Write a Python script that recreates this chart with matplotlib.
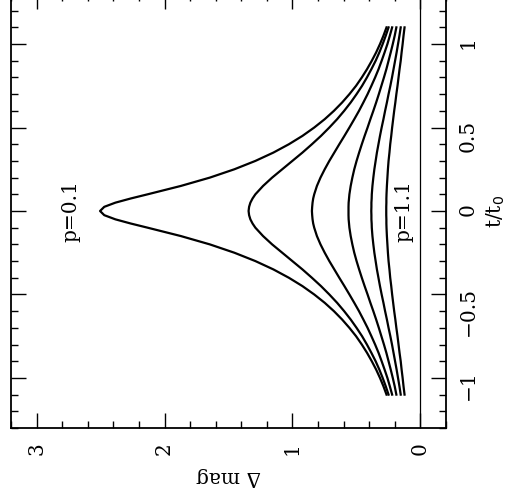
#Light curves for several impact parameters
import matplotlib
matplotlib.use('Agg')
import matplotlib.pyplot as plt

plt.rcParams['font.family'] = ['DejaVu Serif']

# time in units of t0
t = [-1.1, -1.05, -1.0, -0.95, -0.9, -0.85, -0.8, -0.75, -0.7, -0.65, -0.6, -0.55,
     -0.5, -0.45, -0.4, -0.35, -0.3, -0.25, -0.2, -0.15, -0.1, -0.075, -0.05, -0.025,
     0.0, 0.025, 0.05, 0.075, 0.1, 0.15, 0.2, 0.25, 0.3, 0.35, 0.4, 0.45, 0.5, 0.55,
     0.6, 0.65, 0.7, 0.75, 0.8, 0.85, 0.9, 0.95, 1.0, 1.05, 1.1]

p = [0.1, 0.3, 0.5, 0.7, 0.9, 1.1]

# delta mag for each p
dmag_p01 = [0.265, 0.289, 0.316, 0.346, 0.380, 0.417, 0.458, 0.503, 0.555, 0.612, 0.676, 0.748,
            0.830, 0.922, 1.028, 1.149, 1.290, 1.454, 1.646, 1.873, 2.132, 2.264, 2.384, 2.471,
            2.504, 2.471, 2.384, 2.264, 2.132, 1.873, 1.646, 1.454, 1.290, 1.149, 1.028, 0.922,
            0.830, 0.748, 0.676, 0.612, 0.555, 0.503, 0.458, 0.417, 0.380, 0.346, 0.316, 0.289, 0.265]
dmag_p03 = [0.249, 0.271, 0.295, 0.321, 0.350, 0.383, 0.418, 0.456, 0.499, 0.545, 0.596, 0.651,
            0.712, 0.777, 0.848, 0.922, 1.001, 1.080, 1.159, 1.230, 1.290, 1.312, 1.329, 1.339,
            1.343, 1.339, 1.329, 1.312, 1.290, 1.230, 1.159, 1.080, 1.001, 0.922, 0.848, 0.777,
            0.712, 0.651, 0.596, 0.545, 0.499, 0.456, 0.418, 0.383, 0.350, 0.321, 0.295, 0.271, 0.249]
dmag_p05 = [0.221, 0.239, 0.258, 0.280, 0.303, 0.327, 0.354, 0.383, 0.413, 0.446, 0.480, 0.517,
            0.555, 0.594, 0.634, 0.673, 0.712, 0.748, 0.781, 0.809, 0.830, 0.838, 0.843, 0.846,
            0.848, 0.846, 0.843, 0.838, 0.830, 0.809, 0.781, 0.748, 0.712, 0.673, 0.634, 0.594,
            0.555, 0.517, 0.480, 0.446, 0.413, 0.383, 0.354, 0.327, 0.303, 0.280, 0.258, 0.239, 0.221]
dmag_p07 = [0.188, 0.201, 0.216, 0.232, 0.249, 0.266, 0.285, 0.305, 0.325, 0.346, 0.368, 0.391,
            0.413, 0.436, 0.458, 0.479, 0.499, 0.517, 0.532, 0.545, 0.555, 0.558, 0.561, 0.562,
            0.562, 0.562, 0.561, 0.558, 0.555, 0.545, 0.532, 0.517, 0.499, 0.479, 0.458, 0.436,
            0.413, 0.391, 0.368, 0.346, 0.325, 0.305, 0.285, 0.266, 0.249, 0.232, 0.216, 0.201, 0.188]
dmag_p09 = [0.154, 0.164, 0.175, 0.186, 0.198, 0.210, 0.222, 0.235, 0.249, 0.262, 0.276, 0.289,
            0.303, 0.316, 0.328, 0.340, 0.350, 0.360, 0.368, 0.375, 0.380, 0.381, 0.383, 0.383,
            0.384, 0.383, 0.383, 0.381, 0.380, 0.375, 0.368, 0.360, 0.350, 0.340, 0.328, 0.316,
            0.303, 0.289, 0.276, 0.262, 0.249, 0.235, 0.222, 0.210, 0.198, 0.186, 0.175, 0.164, 0.154]
dmag_p11 = [0.124, 0.132, 0.139, 0.147, 0.154, 0.163, 0.171, 0.179, 0.188, 0.196, 0.205, 0.213,
            0.221, 0.228, 0.236, 0.242, 0.249, 0.254, 0.258, 0.262, 0.265, 0.266, 0.266, 0.267,
            0.267, 0.267, 0.266, 0.266, 0.265, 0.262, 0.258, 0.254, 0.249, 0.242, 0.236, 0.228,
            0.221, 0.213, 0.205, 0.196, 0.188, 0.179, 0.171, 0.163, 0.154, 0.147, 0.139, 0.132, 0.124]

curves = [dmag_p01, dmag_p03, dmag_p05, dmag_p07, dmag_p09, dmag_p11]

fig = plt.figure(figsize=(5.08, 4.97), dpi=100)
ax = fig.add_axes([11/508, 69/497, 435/508, 434/497])

# plot is turned on its side: delta mag runs right to left, time runs upward
for d in curves:
	ax.plot(d, t, color='black', lw=1.6)
ax.axvline(0, color='black', lw=0.9)

ax.text(2.73, 0.0, 'p=%.1f' % p[0], rotation=90, ha='center', va='center', fontsize=14.5)
ax.text(0.13, 0.0, 'p=%.1f' % p[-1], rotation=90, ha='center', va='center', fontsize=14.5)

ax.set_xlim(3.2, -0.2)
ax.set_ylim(-1.3, 1.3)
ax.set_xticks([0, 1, 2, 3])
ax.set_xticks([x/5 for x in range(-1, 17)], minor=True)
ax.set_yticks([-1, -0.5, 0, 0.5, 1])
ax.set_yticklabels(['\u22121', '\u22120.5', '0', '0.5', '1'])
ax.set_yticks([y/10 for y in range(-13, 14)], minor=True)

ax.tick_params(which='both', direction='in', top=True, bottom=True, left=True, right=True,
	labelleft=False, labelright=True, width=1)
ax.tick_params(which='major', length=11)
ax.tick_params(which='minor', length=5)
ax.tick_params(axis='x', labelrotation=90, labelsize=14.5, pad=10)
ax.tick_params(axis='y', labelrotation=90, labelsize=14.5, pad=9)

ax.set_xlabel('\u0394 mag', rotation=180, fontsize=14.5, labelpad=9)
ax.yaxis.set_label_position('right')
ax.set_ylabel('t/t$_0$', rotation=90, fontsize=14.5, labelpad=5)

for s in ax.spines.values():
	s.set_linewidth(1.3)

plt.savefig('out.png', dpi=100)
